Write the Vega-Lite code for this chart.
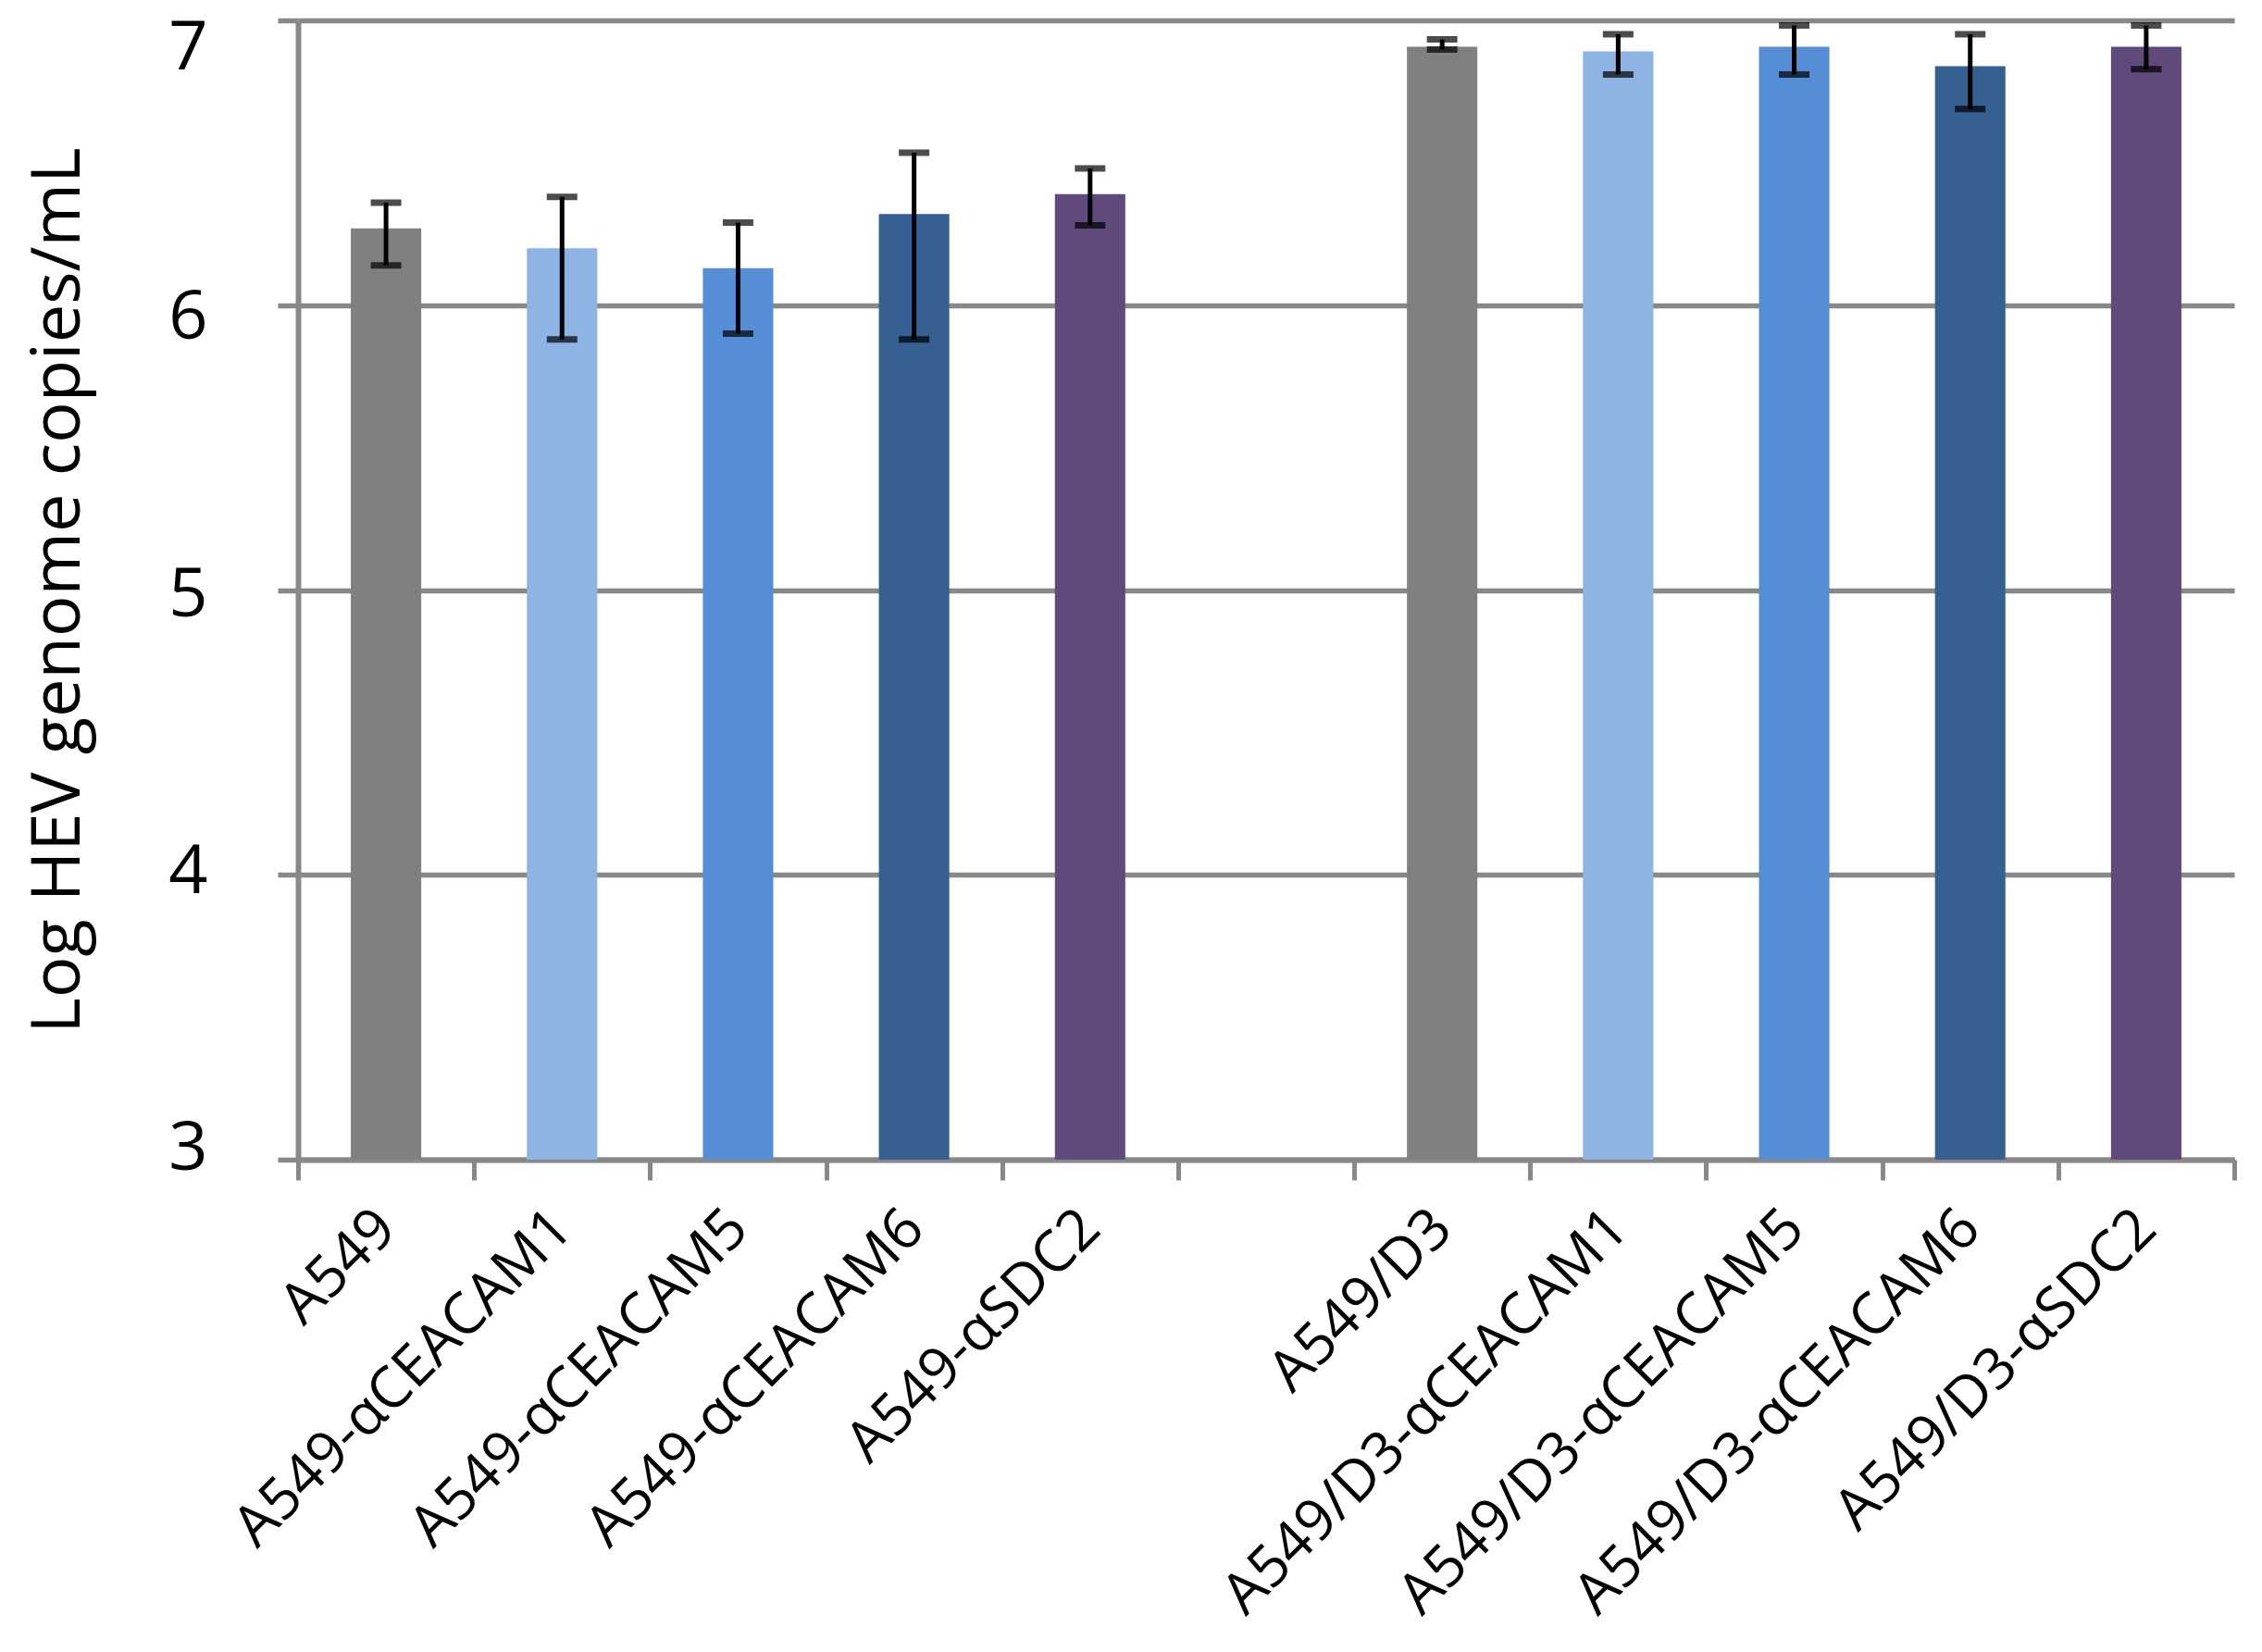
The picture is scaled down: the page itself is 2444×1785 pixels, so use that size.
{
  "$schema": "https://vega.github.io/schema/vega-lite/v6.json",
  "autosize": {"type": "none"},
  "width": 2092,
  "height": 1231,
  "padding": {"left": 322, "top": 22, "right": 30, "bottom": 532},
  "background": "white",
  "config": {
    "view": {"stroke": null},
    "font": "Open Sans",
    "axis": {"labelFont": "Open Sans", "titleFont": "Open Sans", "labelColor": "black", "titleColor": "black"}
  },
  "data": {
    "values": [
      {"cell": "A549", "antibody": "none", "mean": 6.27, "lo": 6.14, "hi": 6.36},
      {"cell": "A549-αCEACAM1", "antibody": "αCEACAM1", "mean": 6.2, "lo": 5.88, "hi": 6.38},
      {"cell": "A549-αCEACAM5", "antibody": "αCEACAM5", "mean": 6.13, "lo": 5.9, "hi": 6.29},
      {"cell": "A549-αCEACAM6", "antibody": "αCEACAM6", "mean": 6.32, "lo": 5.88, "hi": 6.535},
      {"cell": "A549-αSDC2", "antibody": "αSDC2", "mean": 6.39, "lo": 6.28, "hi": 6.48},
      {"cell": "A549/D3", "antibody": "none", "mean": 6.907, "lo": 6.898, "hi": 6.933},
      {"cell": "A549/D3-αCEACAM1", "antibody": "αCEACAM1", "mean": 6.891, "lo": 6.81, "hi": 6.951},
      {"cell": "A549/D3-αCEACAM5", "antibody": "αCEACAM5", "mean": 6.907, "lo": 6.81, "hi": 6.982},
      {"cell": "A549/D3-αCEACAM6", "antibody": "αCEACAM6", "mean": 6.839, "lo": 6.689, "hi": 6.951},
      {"cell": "A549/D3-αSDC2", "antibody": "αSDC2", "mean": 6.907, "lo": 6.829, "hi": 6.982}
    ]
  },
  "encoding": {
    "x": {
      "field": "cell",
      "type": "nominal",
      "sort": null,
      "scale": {
        "domain": ["A549", "A549-αCEACAM1", "A549-αCEACAM5", "A549-αCEACAM6", "A549-αSDC2", " ",
                   "A549/D3", "A549/D3-αCEACAM1", "A549/D3-αCEACAM5", "A549/D3-αCEACAM6", "A549/D3-αSDC2"],
        "paddingInner": 0,
        "paddingOuter": 0
      },
      "axis": {
        "title": null,
        "labelAngle": -45,
        "labelAlign": "right",
        "labelBaseline": "middle",
        "labelFontSize": 62,
        "labelPadding": 42,
        "labelLimit": 0,
        "labelOverlap": false,
        "tickBand": "extent",
        "tickSize": 22,
        "tickWidth": 5,
        "tickColor": "#888888",
        "domainColor": "#888888",
        "domainWidth": 6,
        "grid": false
      }
    }
  },
  "layer": [
    {
      "mark": {"type": "bar", "width": {"band": 0.4}},
      "encoding": {
        "y": {
          "field": "mean",
          "type": "quantitative",
          "scale": {"domain": [3, 7], "nice": false, "zero": false},
          "axis": {
            "title": "Log HEV genome copies/mL",
            "titleFontSize": 74,
            "titleFontWeight": "normal",
            "titlePadding": 80,
            "values": [3, 4, 5, 6, 7],
            "format": "d",
            "labelFontSize": 74,
            "labelPadding": 76,
            "labelOffset": {
              "condition": [
                {"test": "datum.value == 7", "value": 30},
                {"test": "datum.value == 6", "value": 14},
                {"test": "datum.value == 5", "value": 6},
                {"test": "datum.value == 3", "value": -12}
              ],
              "value": -3
            },
            "tickSize": 22,
            "tickWidth": 5.5,
            "tickColor": "#888888",
            "domainColor": "#888888",
            "domainWidth": 6,
            "grid": true,
            "gridColor": "#888888",
            "gridWidth": 5.5,
            "gridOpacity": 1
          }
        },
        "y2": {"datum": 3},
        "color": {
          "field": "antibody",
          "type": "nominal",
          "legend": null,
          "scale": {
            "domain": ["none", "αCEACAM1", "αCEACAM5", "αCEACAM6", "αSDC2"],
            "range": ["#808080", "#8EB4E3", "#558ED5", "#366092", "#604A7B"]
          }
        }
      }
    },
    {
      "mark": {"type": "rule", "color": "black", "strokeWidth": 5},
      "encoding": {
        "y": {"field": "lo", "type": "quantitative"},
        "y2": {"field": "hi"}
      }
    },
    {
      "mark": {"type": "tick", "color": "black", "size": 33, "thickness": 7},
      "encoding": {"y": {"field": "lo", "type": "quantitative"}}
    },
    {
      "mark": {"type": "tick", "color": "black", "size": 33, "thickness": 7},
      "encoding": {"y": {"field": "hi", "type": "quantitative"}}
    }
  ]
}
